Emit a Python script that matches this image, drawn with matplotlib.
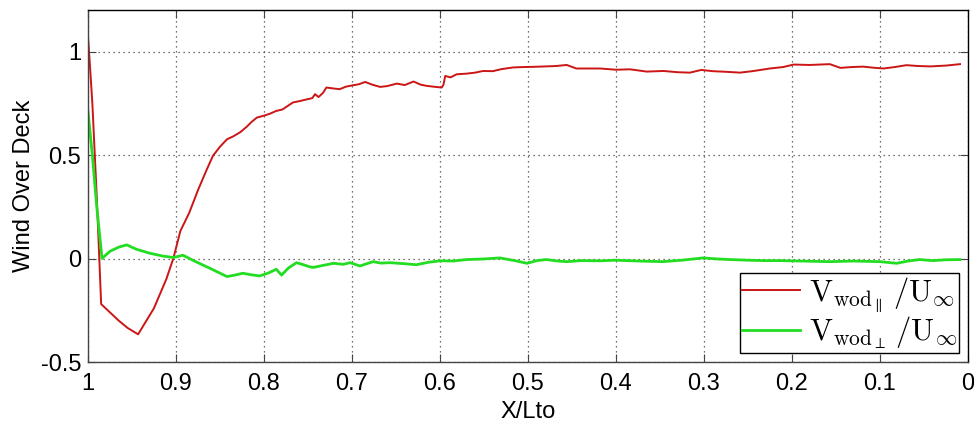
import matplotlib
matplotlib.use("Agg")
import matplotlib.pyplot as plt

plt.rcParams['font.family'] = ['Liberation Sans', 'DejaVu Sans']
plt.rcParams['mathtext.fontset'] = 'cm'

red_x = [1.0, 0.998, 0.995, 0.99, 0.985, 0.975, 0.965, 0.955, 0.943, 0.935, 0.925, 0.915,
         0.911, 0.903, 0.895, 0.885, 0.875, 0.866, 0.858, 0.85, 0.842, 0.835, 0.827, 0.82,
         0.814, 0.808, 0.80, 0.793, 0.786, 0.779, 0.772, 0.767, 0.76, 0.755, 0.75, 0.745,
         0.742, 0.738, 0.733, 0.729, 0.722, 0.714, 0.707, 0.7, 0.692, 0.685, 0.677, 0.668,
         0.66, 0.649, 0.64, 0.63, 0.622, 0.615, 0.607, 0.598, 0.596, 0.594, 0.588, 0.581,
         0.57, 0.56, 0.551, 0.54, 0.53, 0.517, 0.505, 0.494, 0.48, 0.468, 0.456, 0.445,
         0.43, 0.418, 0.40, 0.384, 0.365, 0.346, 0.33, 0.316, 0.303, 0.29, 0.275, 0.259,
         0.245, 0.225, 0.21, 0.198, 0.18, 0.157, 0.145, 0.132, 0.119, 0.108, 0.096, 0.083,
         0.07, 0.057, 0.043, 0.025, 0.009]
red_y = [1.075, 0.95, 0.75, 0.3, -0.22, -0.26, -0.30, -0.335, -0.366, -0.31, -0.24, -0.14,
         -0.10, 0.0, 0.133, 0.22, 0.33, 0.42, 0.496, 0.54, 0.576, 0.59, 0.61, 0.635,
         0.66, 0.681, 0.69, 0.70, 0.713, 0.72, 0.74, 0.754, 0.76, 0.765, 0.77, 0.775,
         0.794, 0.78, 0.80, 0.826, 0.822, 0.818, 0.83, 0.836, 0.842, 0.853, 0.84, 0.829,
         0.833, 0.845, 0.838, 0.855, 0.84, 0.834, 0.83, 0.826, 0.84, 0.882, 0.875, 0.89,
         0.893, 0.898, 0.906, 0.905, 0.915, 0.923, 0.925, 0.926, 0.928, 0.93, 0.935, 0.918,
         0.918, 0.918, 0.912, 0.914, 0.903, 0.906, 0.90, 0.898, 0.911, 0.905, 0.902, 0.898,
         0.905, 0.918, 0.925, 0.937, 0.935, 0.939, 0.921, 0.925, 0.927, 0.922, 0.918, 0.925,
         0.934, 0.93, 0.928, 0.932, 0.939]

green_x = [1.0, 0.995, 0.99, 0.984, 0.975, 0.965, 0.956, 0.945, 0.93, 0.915, 0.903, 0.892,
           0.88, 0.86, 0.842, 0.833, 0.824, 0.815, 0.805, 0.795, 0.786, 0.78, 0.772, 0.763,
           0.755, 0.748, 0.744, 0.735, 0.721, 0.71, 0.702, 0.691, 0.676, 0.667, 0.657, 0.64,
           0.627, 0.613, 0.6, 0.585, 0.57, 0.55, 0.532, 0.515, 0.501, 0.49, 0.479, 0.466,
           0.456, 0.44, 0.418, 0.4, 0.381, 0.365, 0.347, 0.325, 0.301, 0.285, 0.27, 0.25,
           0.232, 0.214, 0.19, 0.157, 0.13, 0.1, 0.081, 0.068, 0.055, 0.04, 0.025, 0.009]
green_y = [0.713, 0.5, 0.25, 0.0, 0.035, 0.055, 0.066, 0.045, 0.026, 0.012, 0.005, 0.016,
           -0.01, -0.05, -0.087, -0.08, -0.071, -0.078, -0.084, -0.07, -0.052, -0.08, -0.045, -0.02,
           -0.03, -0.04, -0.043, -0.035, -0.023, -0.028, -0.02, -0.036, -0.015, -0.022, -0.02, -0.025,
           -0.03, -0.018, -0.011, -0.012, -0.005, -0.002, 0.003, -0.01, -0.023, -0.01, -0.005, -0.012,
           -0.015, -0.01, -0.011, -0.008, -0.011, -0.013, -0.015, -0.008, 0.003, -0.002, -0.005, -0.008,
           -0.01, -0.01, -0.012, -0.015, -0.012, -0.015, -0.023, -0.012, -0.005, -0.01, -0.006, -0.005]

x_ticks = [1, 0.9, 0.8, 0.7, 0.6, 0.5, 0.4, 0.3, 0.2, 0.1, 0]
x_labels = ['1', '0.9', '0.8', '0.7', '0.6', '0.5', '0.4', '0.3', '0.2', '0.1', '0']
y_ticks = [-0.5, 0, 0.5, 1]
y_labels = ['-0.5', '0', '0.5', '1']

fig = plt.figure(figsize=(9.74, 4.21), dpi=100)
ax = fig.add_axes([0.0903, 0.140, 0.9035, 0.836])

ax.plot(red_x, red_y, color='#cc1515', lw=1.4,
        label=r'$\mathrm{V}_{\mathrm{wod}_{\parallel}}\,/\mathrm{U}_{\infty}$')
ax.plot(green_x, green_y, color='#22dd22', lw=2.0,
        label=r'$\mathrm{V}_{\mathrm{wod}_{\perp}}\,/\mathrm{U}_{\infty}$')

ax.set_xlim(1, 0)
ax.set_ylim(-0.5, 1.2)
ax.set_xticks(x_ticks)
ax.set_xticklabels(x_labels)
ax.set_yticks(y_ticks)
ax.set_yticklabels(y_labels)
ax.tick_params(direction='in', top=True, right=True, labelsize=17, length=6,
               color='#444444')
ax.tick_params(axis='x', pad=8)
ax.tick_params(axis='y', pad=5)
ax.grid(True, linestyle=(0, (1, 3)), color='#444444', lw=0.9)
for s in ax.spines.values():
    s.set_color('#444444')
    s.set_linewidth(1.0)
ax.spines['top'].set_color('black')
ax.spines['right'].set_color('black')

ax.set_xlabel('X/Lto', fontsize=17, labelpad=4)
ax.set_ylabel('Wind Over Deck', fontsize=17, labelpad=4)

leg = ax.legend(loc='lower right', fontsize=22, frameon=True, fancybox=False,
                edgecolor='black', framealpha=1, handlelength=1.9, handletextpad=0.3,
                labelspacing=0.0, borderpad=0.05, borderaxespad=0.3)
leg.get_frame().set_linewidth(1.0)

fig.savefig('out.png', dpi=100)
